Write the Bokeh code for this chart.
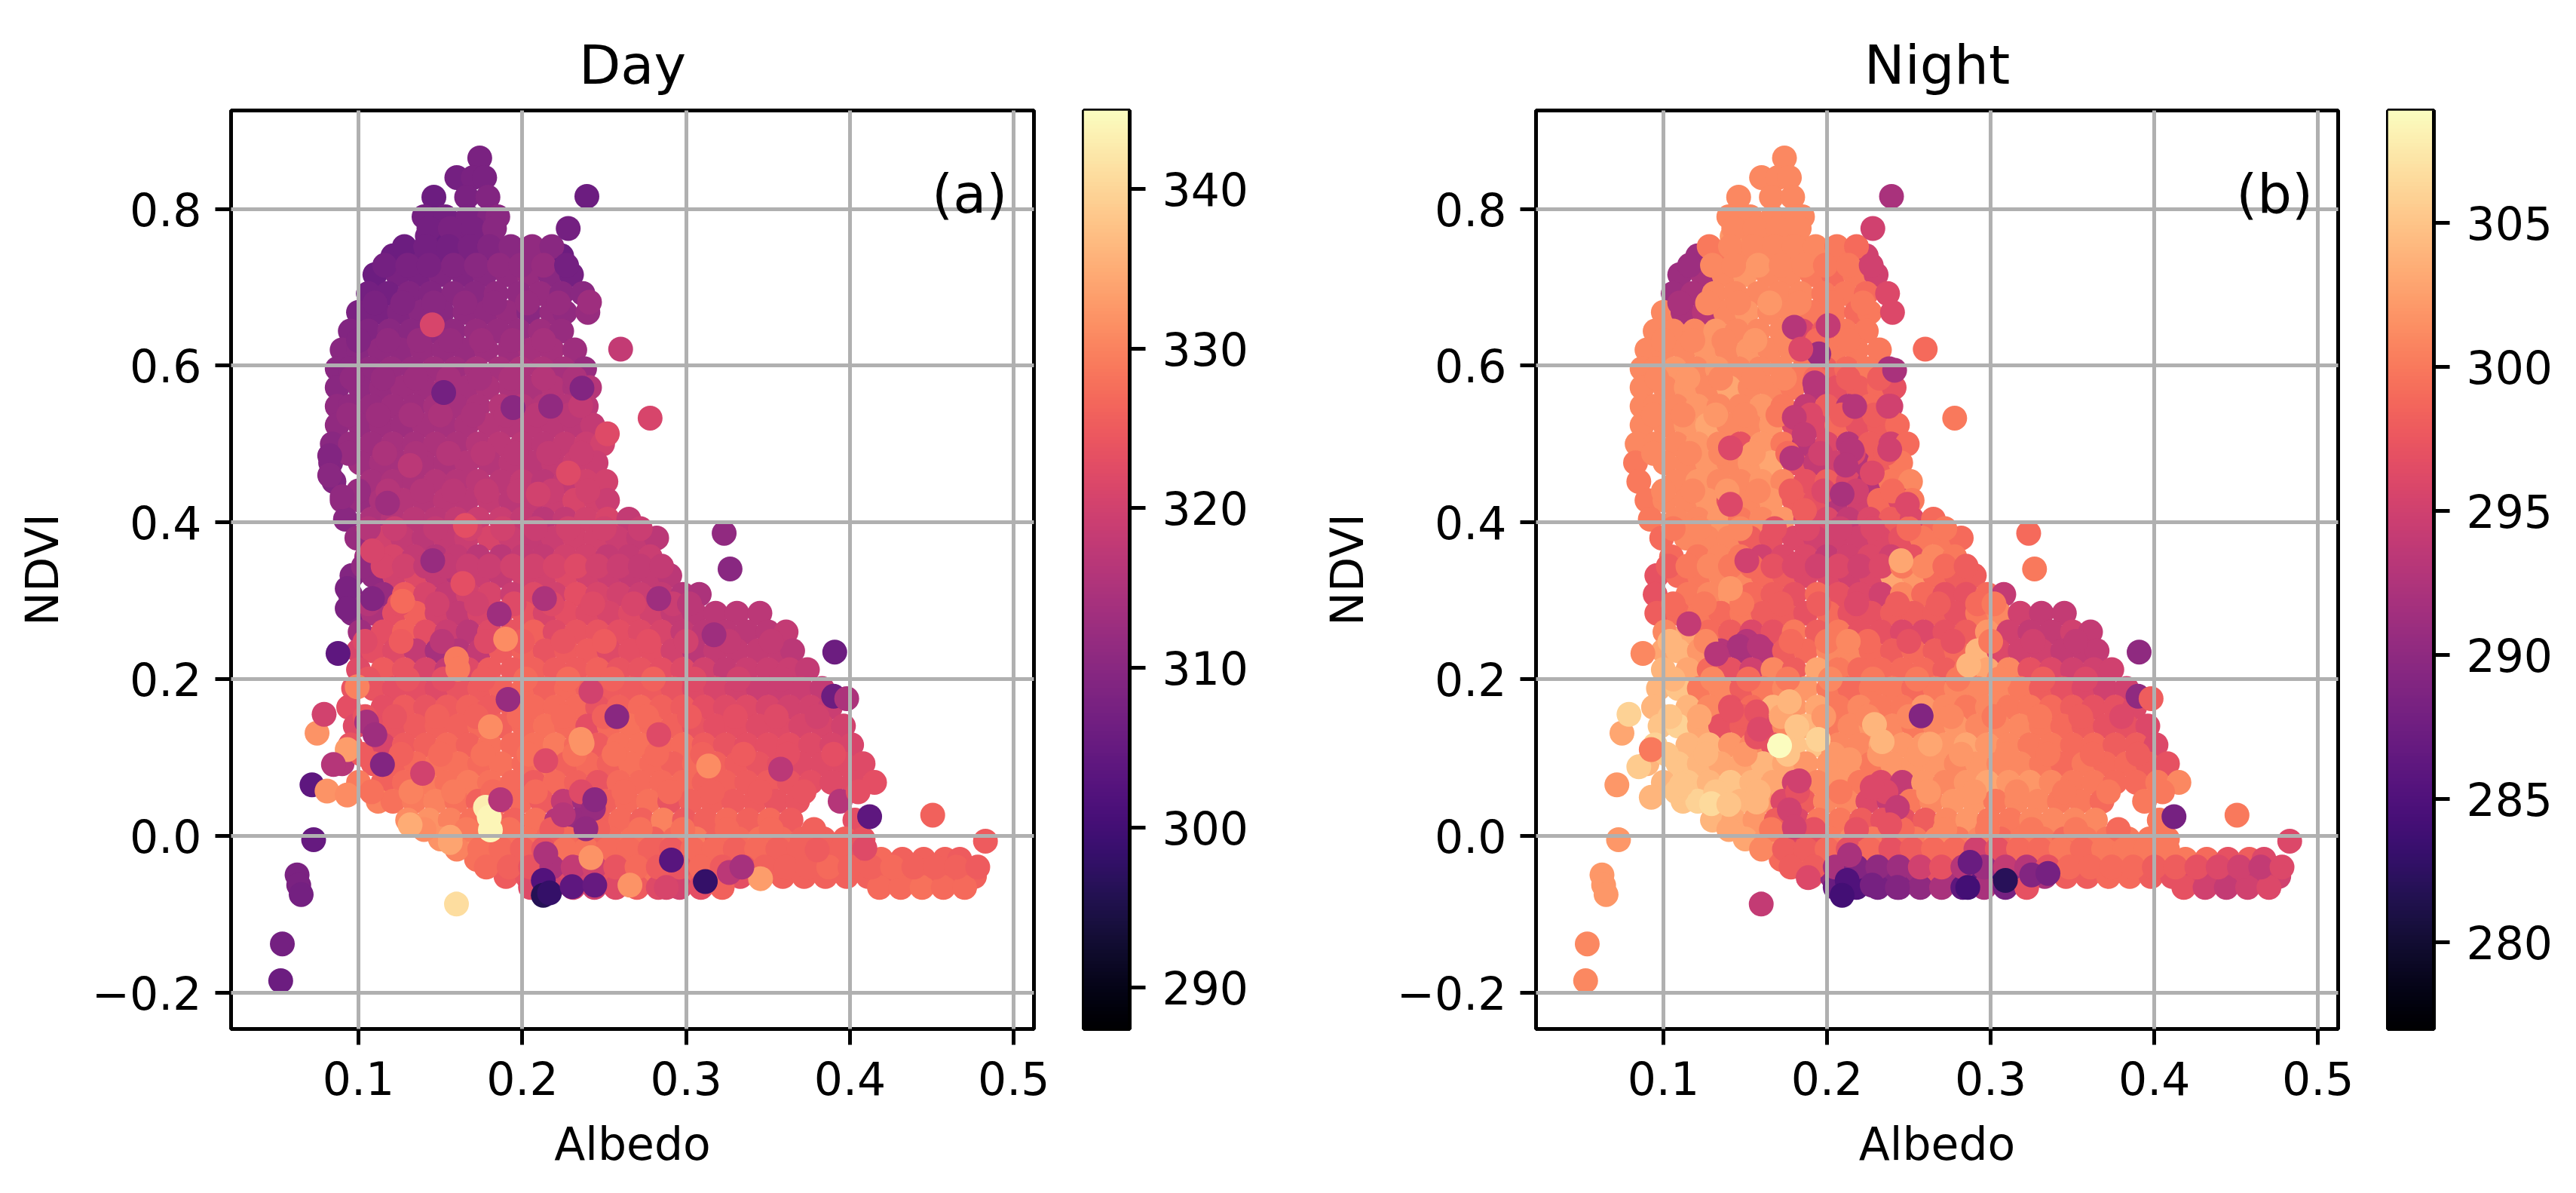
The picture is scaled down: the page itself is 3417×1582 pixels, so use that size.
from bokeh.embed import file_html
from bokeh.layouts import row
from bokeh.models import ColumnDataSource, FixedTicker, LinearColorMapper, Range1d
from bokeh.palettes import Magma256
from bokeh.plotting import figure
from bokeh.resources import INLINE
from bokeh.core.properties import value
import numpy as np

titles = ["Day", "Night"]
panel_tags = ["(a)", "(b)"]
x_label = "Albedo"
y_label = "NDVI"
x_ticks = [0.1, 0.2, 0.3, 0.4, 0.5]
y_ticks = [-0.2, 0.0, 0.2, 0.4, 0.6, 0.8]
y_tick_labels = ["\u22120.2", "0.0", "0.2", "0.4", "0.6", "0.8"]
day_range = (287.4, 344.9)
night_range = (277.0, 308.9)
day_ticks = [290, 300, 310, 320, 330, 340]
night_ticks = [280, 285, 290, 295, 300, 305]

# NDVI of each row of points; albedo in thousandths
ndvi_rows = [.865, .84, .815, .79, .765, .74, .716, .692, .668, .644, .62, .596, .572, .548, .524, .5, .476, .452,
             .428, .404, .38, .356, .332, .308, .284, .26, .236, .212, .188, .164, .14, .116, .092, .068, .044,
             .02, -.004, -.03, -.052, -.066,
             .775, .752, .728, .68, .632, .584, .537, .488, .44, .392, .344, .296, .248, .2, .152, .104, .056, .008, -.017, -.04]
albedo_rows = [
 [174],
 [160,170,177],
 [146,166,179],
 [140,153,167,180,185],
 [142,155,168,181],
 [121,134,148,161,174,187,200,212,224],
 [110,124,137,150,164,177,191,204,217,230],
 [106,118,131,144,158,171,184,198,211,224,237],
 [100,112,125,138,151,165,178,191,204,218,226,240],
 [95,106,119,132,145,158,172,185,198,211,224],
 [90,100,113,126,139,152,165,178,192,205,218,232],
 [87,95,107,120,133,146,159,172,186,199,212,225,238],
 [87,101,114,127,140,153,166,179,193,206,219,232,241],
 [87,95,108,121,134,147,160,173,187,200,213,226,239],
 [87,101,114,127,140,153,166,180,193,206,219,232,243],
 [84,95,108,121,134,147,160,173,186,200,213,226,239,249],
 [83,101,114,127,140,153,166,180,193,206,219,232,245],
 [85,108,121,134,147,160,173,187,200,213,226,239,251],
 [90,101,114,127,140,153,166,180,193,206,219,232,245,252],
 [92,108,121,134,147,160,173,187,200,213,226,239,252,265],
 [99,114,127,140,153,166,180,193,206,219,232,245,258,271,282],
 [105,121,134,147,160,173,187,200,213,226,239,252,265,278],
 [96,109,122,135,148,161,174,187,201,214,227,240,253,266,279,290],
 [95,115,128,141,154,167,180,194,207,220,233,246,259,272,285,298,308],
 [96,109,122,135,148,161,174,187,201,214,227,240,253,266,279,292,305,318,331,345],
 [101,115,128,141,154,167,180,194,207,220,233,246,259,272,285,298,311,324,337,350,361],
 [100,109,122,135,148,161,174,187,201,214,227,240,253,266,279,292,305,318,331,344,357,365],
 [100,115,128,141,154,167,180,194,207,220,233,246,259,272,285,298,311,324,337,350,363,374],
 [97,109,122,135,148,161,174,187,201,214,227,240,253,266,279,292,305,318,331,344,357,370,383],
 [94,115,128,141,154,167,180,194,207,220,233,246,259,272,285,298,311,324,337,350,363,376,388],
 [98,109,122,135,148,161,174,187,201,214,227,240,253,266,279,292,305,318,331,344,357,370,383,396],
 [95,115,128,141,154,167,180,194,207,220,233,246,259,272,285,298,311,324,337,350,363,376,389,401],
 [90,109,122,135,148,161,174,187,201,214,227,240,253,266,279,292,305,318,331,344,357,370,383,396,408],
 [100,115,128,141,154,167,180,194,207,220,233,246,259,272,285,298,311,324,337,350,363,376,389,402,415],
 [112,121,134,147,160,173,186,199,212,225,238,251,264,277,290,303,316,329,342,355,368,394],
 [130,143,156,169,182,195,208,221,234,247,260,273,286,299,312,325,338,351,364,403],
 [150,163,176,189,202,215,228,241,254,267,280,293,306,319,332,345,358,371,384,397,408],
 [172,185,198,211,224,237,250,263,276,289,302,315,328,341,354,367,380,393,406,419,432,445,458,467],
 [190,203,216,229,242,255,268,281,294,307,320,333,346,359,372,385,398,411,424,437,450,463,476],
 [205,218,231,244,257,270,283,296,309,322,418,431,444,457,470],
 [143,156,170,183],
 [128,141,155,168,180,193,206,218],
 [116,130,143,158,172,186,199,213,227],
 [110,127,146,165,183,203,222],
 [100,118,137,156,175,194,213],
 [96,115,135,155,174,193,213,232],
 [94,112,132,150,170,190,209,229],
 [94,116,135,155,176,196,216,236],
 [100,118,139,158,178,198,218,240],
 [106,122,147,168,188,208,228,250,272],
 [103,115,128,141,154,167,180,194,207,220,233,246,259,272,285],
 [106,125,148,172,195,218,243,268,292,302],
 [104,126,151,178,200,225,250,277,300,326,352],
 [106,130,152,176,202,228,255,280,305,332,358],
 [104,122,148,172,198,225,250,276,302,330,355,380],
 [102,126,150,176,204,232,256,282,310,335,362,390],
 [108,132,158,182,208,236,262,290,316,345,372,405],
 [140,166,192,218,246,272,298,325,352,378],
 [160,174,187,200,213,226,239,252,265,278,291,304,317,330,343,356,369,382,395,408],
 [178,192,205,218,231,244,257,270,283,296,309,322,335,348,361,374,387,400,413,426,439,452,465,478],
]
day_rows = [
 [308],
 [307,308,308],
 [306,308,309],
 [307,307,308,309,310],
 [307,306,308,310],
 [306,307,307,308,308,310,311,311,306],
 [306,308,308,309,309,310,311,312,310,307],
 [307,307,309,309,310,310,311,311,312,310,310],
 [308,308,309,310,310,311,311,312,310,312,311,312],
 [309,309,310,310,311,311,312,312,312,313,312],
 [310,310,311,311,312,312,312,313,313,314,314,313],
 [310,310,311,312,312,313,313,314,314,315,315,314,312],
 [310,311,312,313,313,314,314,315,315,315,316,315,316],
 [311,311,312,313,313,314,314,315,316,316,316,316,317],
 [311,312,313,313,314,314,315,316,316,317,317,317,318],
 [310,312,313,314,314,315,315,316,317,317,317,318,319,320],
 [309,313,314,314,315,315,316,316,317,317,318,319,319],
 [309,314,315,315,316,316,317,317,318,317,318,320,320],
 [311,312,315,316,316,317,317,318,317,318,319,321,320,319],
 [310,315,316,317,317,318,319,319,318,317,318,320,321,318],
 [312,320,318,317,318,319,321,319,318,319,320,320,319,318,317],
 [313,321,318,316,318,317,317,318,318,320,320,318,318,319],
 [309,311,320,322,318,316,319,318,320,320,322,320,319,318,318,317],
 [309,312,325,321,318,320,321,319,322,320,323,321,320,319,318,316,315],
 [309,315,323,326,320,318,321,322,324,321,323,322,321,322,320,318,317,317,317,317],
 [313,323,326,323,319,317,322,324,326,322,324,324,323,322,321,318,317,317,317,317,318],
 [321,323,322,318,314,316,318,325,326,324,325,325,322,323,323,320,317,318,318,318,318,317],
 [322,325,324,321,318,322,325,325,326,325,325,326,324,324,323,322,320,318,319,319,319,318],
 [324,324,323,323,322,324,325,326,327,326,327,326,325,325,325,324,322,321,320,319,319,319,318],
 [323,323,325,324,325,326,325,326,327,327,327,324,326,327,326,325,323,322,322,321,320,320,319],
 [322,323,324,325,326,326,327,326,327,328,327,323,327,328,327,326,324,323,323,322,322,321,321,320],
 [324,321,325,326,327,326,328,327,328,329,327,325,328,328,327,327,325,324,323,323,323,322,321,321],
 [316,325,326,327,328,328,327,328,327,328,326,327,326,328,327,326,327,326,325,324,323,322,322,322,322],
 [329,326,327,329,328,329,328,327,325,327,326,324,327,327,327,327,326,326,325,325,324,323,322,322,323],
 [330,328,329,330,328,326,325,327,325,318,313,326,327,328,324,326,326,325,325,324,324,316],
 [331,332,330,328,327,326,328,316,312,326,327,326,330,325,326,327,326,327,325,323],
 [332,331,328,329,328,327,327,325,327,328,326,327,329,326,327,328,327,326,326,326,324],
 [328,327,326,322,326,329,328,328,327,326,327,328,326,328,327,326,327,327,326,327,326,326,326,325],
 [325,324,320,322,320,324,326,328,325,326,322,323,325,326,326,326,326,326,326,327,326,326,326],
 [322,320,320,320,322,325,322,320,323,326,327,327,328,327,327],
 [307,308,308,310],
 [306,307,307,308,309,310,311,310],
 [307,308,308,309,310,311,311,312,307],
 [308,309,310,311,311,312,312],
 [309,311,312,312,313,313,314],
 [311,312,313,314,314,315,316,315],
 [312,313,314,315,315,316,317,317],
 [312,315,315,316,317,317,318,319],
 [312,316,316,317,318,318,319,320],
 [316,319,318,320,320,319,320,320,319],
 [311,321,320,318,318,319,319,320,320,321,322,320,319,318,318],
 [316,323,320,320,322,322,322,321,319,317],
 [322,325,317,322,325,324,325,323,320,318,318],
 [324,324,323,325,327,327,326,326,322,320,319],
 [324,324,326,326,327,327,326,327,325,323,322,320],
 [325,326,327,328,328,328,328,327,326,325,323,323],
 [328,330,329,327,327,322,327,327,326,325,324,323],
 [331,329,328,325,326,328,328,327,327,326],
 [330,328,327,326,324,328,328,327,327,326,325,327,327,326,327,326,326,326,326,324],
 [327,326,324,315,318,320,324,327,325,324,327,325,324,326,326,326,327,326,326,327,326,326,326,325],
]
night_rows = [
 [301],
 [301,301,301],
 [301,301,301],
 [301,301,301,301,301],
 [302,301,301,301],
 [291,300,301,301,301,301,300,300,295],
 [291,292,301,302,301,301,300,299,300,295],
 [291,292,301,301,301,301,301,300,300,299,296],
 [301,292,293,301,302,301,301,300,300,299,300,296],
 [301,301,301,302,301,301,301,296,298,300,300],
 [301,301,301,302,301,302,301,301,298,300,300,300],
 [301,301,302,301,302,301,301,301,300,298,299,300,292],
 [301,301,302,301,303,301,301,300,293,297,298,299,297],
 [301,301,301,302,301,301,302,300,294,298,293,299,295],
 [301,301,302,303,301,301,302,296,296,299,297,298,299],
 [301,301,301,302,301,297,302,300,293,296,293,298,295,299],
 [300,301,301,302,301,302,303,297,294,295,293,298,300],
 [300,301,302,301,301,302,301,297,298,296,293,300,301],
 [300,301,301,302,297,301,302,298,297,293,295,299,296,300],
 [300,301,301,302,300,301,302,296,296,294,296,298,296,299],
 [299,301,301,301,298,297,296,295,295,295,296,297,300,300,299],
 [299,300,301,300,295,296,296,294,295,296,295,297,301,300],
 [297,299,300,301,301,299,298,296,296,295,296,303,302,299,298,298],
 [297,300,301,302,299,298,297,299,297,296,295,301,299,297,297,299,294],
 [298,299,300,299,300,298,298,297,299,297,297,298,298,298,297,300,301,295,294,294],
 [301,303,299,298,296,297,300,298,300,297,297,296,296,297,298,302,295,294,294,295,294],
 [303,304,302,293,292,293,298,299,301,301,299,298,299,298,299,304,296,295,295,294,294,294],
 [304,303,299,297,295,301,298,303,300,299,299,299,299,298,300,303,301,297,296,295,295,295],
 [304,305,300,301,298,300,301,302,300,299,300,300,299,300,301,301,301,300,298,297,296,295,295],
 [304,304,301,297,299,304,302,303,300,301,300,300,302,301,300,301,300,300,299,298,297,297,296],
 [305,306,303,297,298,296,301,304,300,301,302,301,300,301,302,301,301,301,300,299,298,297,297,296],
 [306,304,304,302,301,297,305,305,301,301,303,302,302,302,303,302,301,300,300,299,299,298,298,296],
 [304,305,304,303,303,304,303,302,302,302,300,302,302,302,301,302,301,301,300,299,300,299,299,298,297],
 [304,305,304,305,304,303,295,301,302,300,296,294,302,301,302,303,302,302,301,300,300,299,299,300,301],
 [305,306,305,304,302,296,298,301,301,296,294,300,301,302,302,300,301,301,300,300,299,300],
 [304,303,302,298,296,300,300,298,297,297,298,301,302,300,300,301,301,301,301,300],
 [303,302,296,298,300,301,300,298,300,301,300,301,299,300,300,299,300,300,300,300,300],
 [299,299,300,293,300,298,298,299,298,289,290,298,299,300,299,299,300,299,299,300,299,297,298,296],
 [297,290,286,288,289,291,297,292,286,284,290,292,298,298,299,299,298,297,296,295,295,294,295],
 [287,285,288,289,290,292,286,292,288,297,297,295,294,295,296],
 [301,301,301,301],
 [300,301,301,301,301,301,300,299],
 [291,301,301,302,301,301,300,300,295],
 [292,301,301,302,301,300,300],
 [301,301,301,302,301,299,300],
 [301,302,301,301,301,299,298,298],
 [301,301,302,301,300,296,298,298],
 [301,301,301,302,299,295,296,298],
 [301,301,302,301,298,296,295,299],
 [300,301,301,297,296,295,296,299,300],
 [298,300,301,300,299,297,296,295,296,295,296,300,301,299,298],
 [299,300,300,298,298,296,298,298,299,300],
 [304,301,293,299,300,299,297,297,300,295,294],
 [304,301,299,300,301,300,300,300,301,298,296],
 [305,303,298,303,302,301,301,301,300,300,298,296],
 [305,304,302,305,302,302,302,302,301,300,299,298],
 [305,305,304,297,300,296,302,302,301,300,300,300],
 [303,300,297,297,299,301,300,300,300,299],
 [301,298,298,299,297,299,297,298,299,299,295,297,299,299,300,299,300,300,300,300],
 [298,298,292,289,290,291,295,297,293,291,294,293,297,299,299,299,299,298,298,297,296,295,294,296],
]

# isolated points around the cloud (both panels)
outlier_albedo = [.2394,.228,.26,.278,.3232,.3268,.0875,.3907,.39,.398,.412,.4505,.4827,.1598,.0716,.0747,.079,.0726,.0625,.0635,.065,.0535,.0525]
outlier_ndvi = [.816,.775,.621,.533,.386,.3405,.2327,.2344,.178,.175,.0244,.0263,-.0069,-.0872,.065,.131,.155,-.005,-.05,-.063,-.075,-.138,-.185]
outlier_day = [306,307,318,321,311,310,304,306,306,315,304,326,325,341,304,332,320,305,308,308,307,307,306]
outlier_night = [292,295,299,300,299,300,301,290,290,298,288,300,296,294,302,303,306,302,302,302,302,301,301]

# visible single discs lying on top of the cloud, Day panel
day_spot_albedo = [.145,.152,.1943,.2173,.2356,.241,.2364,.2519,.0824,.0824,.09,.1177,.1315,.1652,.1453,.2097,.2281,.1085,.1637,.2135,.0931,.0931,.1085,.1269,.1859,.2833,.1898,.1598,.1606,.2358,.2577,.1913,.2419,.1805,.0992,.105,.11,.2833,.1391,.1146,.0931,.0847,.0808,.0931,.1315,.156,.156,.1775,.1798,.1805,.1867,.2143,.225,.2434,.2388,.2442,.2143,.2128,.2128,.2166,.2304,.2442,.291,.2365,.2419,.2657,.2879,.317,.3577,.3137,.4091,.38,.3117,.3454,.3263,.334]
day_spot_ndvi = [.652,.5656,.5465,.548,.549,.681,.5713,.513,.485,.46,.4325,.4245,.4726,.396,.351,.436,.463,.3635,.322,.3026,.3154,.29,.3026,.2994,.283,.3026,.251,.2256,.2127,.123,.152,.174,.184,.139,.19,.145,.129,.129,.0796,.091,.11,.091,.057,.052,.0139,-.002,-.0086,.0363,.0235,.0074,.046,.0957,.0267,.0347,.009,.046,-.023,-.057,-.076,-.073,-.065,-.063,-.031,.118,-.028,-.063,-.066,.2565,.085,.089,-.016,-.018,-.0585,-.0548,-.047,-.04]
day_spot_lst = [321,307,310,311,318,313,309,322,309,310,311,313,317,323,312,320,322,321,323,315,308,308,309,327,313,313,331,329,329,332,310,312,320,331,330,314,313,322,320,309,333,316,332,331,335,334,334,343,344,344,316,322,316,312,311,310,315,302,296,298,304,305,303,332,332,332,321,313,317,331,322,325,298,333,317,314]

# visible single discs lying on top of the cloud, Night panel
night_spot_albedo = [.18,.2007,.195,.184,.2413,.1925,.18,.186,.2169,.2375,.141,.1785,.2153,.2383,.2115,.2276,.141,.2092,.2491,.1862,.2452,.151,.1463,.1586,.1325,.1156,.213,.2866,.141,.2575,.171,.1816,.1946,.229,.177,.1417,.157,.157,.111,.1294,.14,.157,.0926,.085,.0926,.183,.177,.18,.2276,.243,.2383,.2138,.2123,.2092,.2276,.243,.2874,.286,.309,.325,.335,.1885,.2138,.263,.2337,.1586]
night_spot_ndvi = [.649,.651,.615,.621,.594,.578,.534,.512,.5478,.548,.495,.482,.492,.493,.473,.463,.423,.436,.423,.415,.351,.351,.2416,.2416,.232,.2705,.248,.2176,.3154,.153,.115,.139,.123,.142,.171,.16,.158,.126,.065,.041,.04,.043,.049,.088,.11,.07,.033,.011,.062,.036,.014,-.0246,-.057,-.076,-.063,-.066,-.034,-.066,-.057,-.05,-.048,-.0535,.097,.117,.12,.136]
night_spot_lst = [293,294,291,296,292,293,294,294,293,295,296,293,293,295,293,296,296,292,296,298,303,295,292,293,293,294,301,304,302,289,308.8,305,306,304,304,297,297,297,305,306.5,305,304,304,305.5,300,295,295,295,296,294,297,292,285,284,288,289,287,284,282,289,288,296,302,303,304,296]


def flatten():
    xs, ys, ds, ns = [], [], [], []
    for y, ax, dv, nv in zip(ndvi_rows, albedo_rows, day_rows, night_rows):
        for a, d, n in zip(ax, dv, nv):
            xs.append(a / 1000.0); ys.append(y); ds.append(d); ns.append(n)
    xs += outlier_albedo; ys += outlier_ndvi; ds += outlier_day; ns += outlier_night
    return xs, ys, ds, ns


BLACK = "#000000"
GRID = "#b0b0b0"
FONT = "DejaVu Sans"
LW = 5
TH = 1566
TOP = 146
BOTTOM = 202


def scatter_panel(idx, x, y, c, spot_x, spot_y, spot_c, lim, left, right, w):
    p = figure(width=w, height=TH, output_backend="svg", toolbar_location=None,
               x_range=Range1d(0.0222, 0.5123), y_range=Range1d(-0.2466, 0.9256),
               min_border_left=left, min_border_right=right, min_border_top=TOP, min_border_bottom=BOTTOM,
               background_fill_color="white", border_fill_color="white")
    mapper = LinearColorMapper(palette=Magma256, low=lim[0], high=lim[1])
    src = ColumnDataSource(dict(x=list(x) + list(spot_x), y=list(y) + list(spot_y), c=list(c) + list(spot_c)))
    p.scatter("x", "y", source=src, size=33, line_color=None,
              fill_color={"field": "c", "transform": mapper})
    p.text([0.45], [0.8], text=[panel_tags[idx]], text_font=value(FONT), text_font_size="72px",
           text_color=BLACK, text_baseline="alphabetic", text_align="left", y_offset=-20, level="overlay")
    p.title.text = titles[idx]
    p.title.align = "center"
    p.title.text_font = FONT
    p.title.text_font_size = "72px"
    p.title.text_font_style = "normal"
    p.title.text_color = BLACK
    p.title.standoff = 38
    p.outline_line_color = BLACK
    p.outline_line_width = LW
    p.outline_line_alpha = 1
    for g in (p.xgrid[0], p.ygrid[0]):
        g.level = "annotation"
        g.grid_line_color = GRID
        g.grid_line_width = LW
    p.xgrid[0].ticker = FixedTicker(ticks=x_ticks)
    p.ygrid[0].ticker = FixedTicker(ticks=y_ticks)
    p.xaxis.ticker = FixedTicker(ticks=x_ticks)
    p.yaxis.ticker = FixedTicker(ticks=y_ticks)
    p.xaxis.major_label_overrides = {v: "%.1f" % v for v in x_ticks}
    p.yaxis.major_label_overrides = dict(zip(y_ticks, y_tick_labels))
    p.xaxis.axis_label = x_label
    p.yaxis.axis_label = y_label
    for ax in (p.xaxis[0], p.yaxis[0]):
        ax.axis_line_color = BLACK
        ax.axis_line_width = LW
        ax.major_tick_line_color = BLACK
        ax.major_tick_line_width = LW
        ax.major_tick_in = 0
        ax.major_tick_out = 21
        ax.minor_tick_line_color = None
        ax.major_label_text_font = FONT
        ax.major_label_text_font_size = "60px"
        ax.major_label_text_color = BLACK
        ax.axis_label_text_font = FONT
        ax.axis_label_text_font_size = "60px"
        ax.axis_label_text_font_style = "normal"
        ax.axis_label_text_color = BLACK
    p.xaxis[0].major_label_standoff = 21
    p.xaxis[0].axis_label_standoff = 27
    p.yaxis[0].major_label_standoff = 18
    p.yaxis[0].axis_label_standoff = 28
    return p


def colorbar_panel(lim, ticks, left, right, w):
    p = figure(width=w, height=TH, output_backend="svg", toolbar_location=None,
               x_range=Range1d(0, 1), y_range=Range1d(lim[0], lim[1]), y_axis_location="right",
               min_border_left=left, min_border_right=right, min_border_top=TOP, min_border_bottom=BOTTOM,
               background_fill_color="white", border_fill_color="white")
    mapper = LinearColorMapper(palette=Magma256, low=0, high=255)
    p.image(image=[np.arange(256).reshape(256, 1)], x=0, y=lim[0], dw=1, dh=lim[1] - lim[0], color_mapper=mapper)
    p.xaxis.visible = False
    p.xgrid.visible = False
    p.ygrid.visible = False
    p.outline_line_color = BLACK
    p.outline_line_width = LW
    p.outline_line_alpha = 1
    ax = p.yaxis[0]
    ax.ticker = FixedTicker(ticks=ticks)
    ax.axis_line_color = BLACK
    ax.axis_line_width = LW
    ax.major_tick_line_color = BLACK
    ax.major_tick_line_width = LW
    ax.major_tick_in = 0
    ax.major_tick_out = 21
    ax.minor_tick_line_color = None
    ax.major_label_text_font = FONT
    ax.major_label_text_font_size = "60px"
    ax.major_label_text_color = BLACK
    ax.major_label_standoff = 22
    return p


xs, ys, ds, ns = flatten()
p1 = scatter_panel(0, xs, ys, ds, day_spot_albedo, day_spot_ndvi, day_spot_lst, day_range, 306, 29, 1400)
c1 = colorbar_panel(day_range, day_ticks, 37, 210, 308)
p2 = scatter_panel(1, xs, ys, ns, night_spot_albedo, night_spot_ndvi, night_spot_lst, night_range, 329, 29, 1422)
c2 = colorbar_panel(night_range, night_ticks, 37, 181, 279)

layout = row(p1, c1, p2, c2, spacing=0)
open("out.html", "w").write(file_html(layout, INLINE))
